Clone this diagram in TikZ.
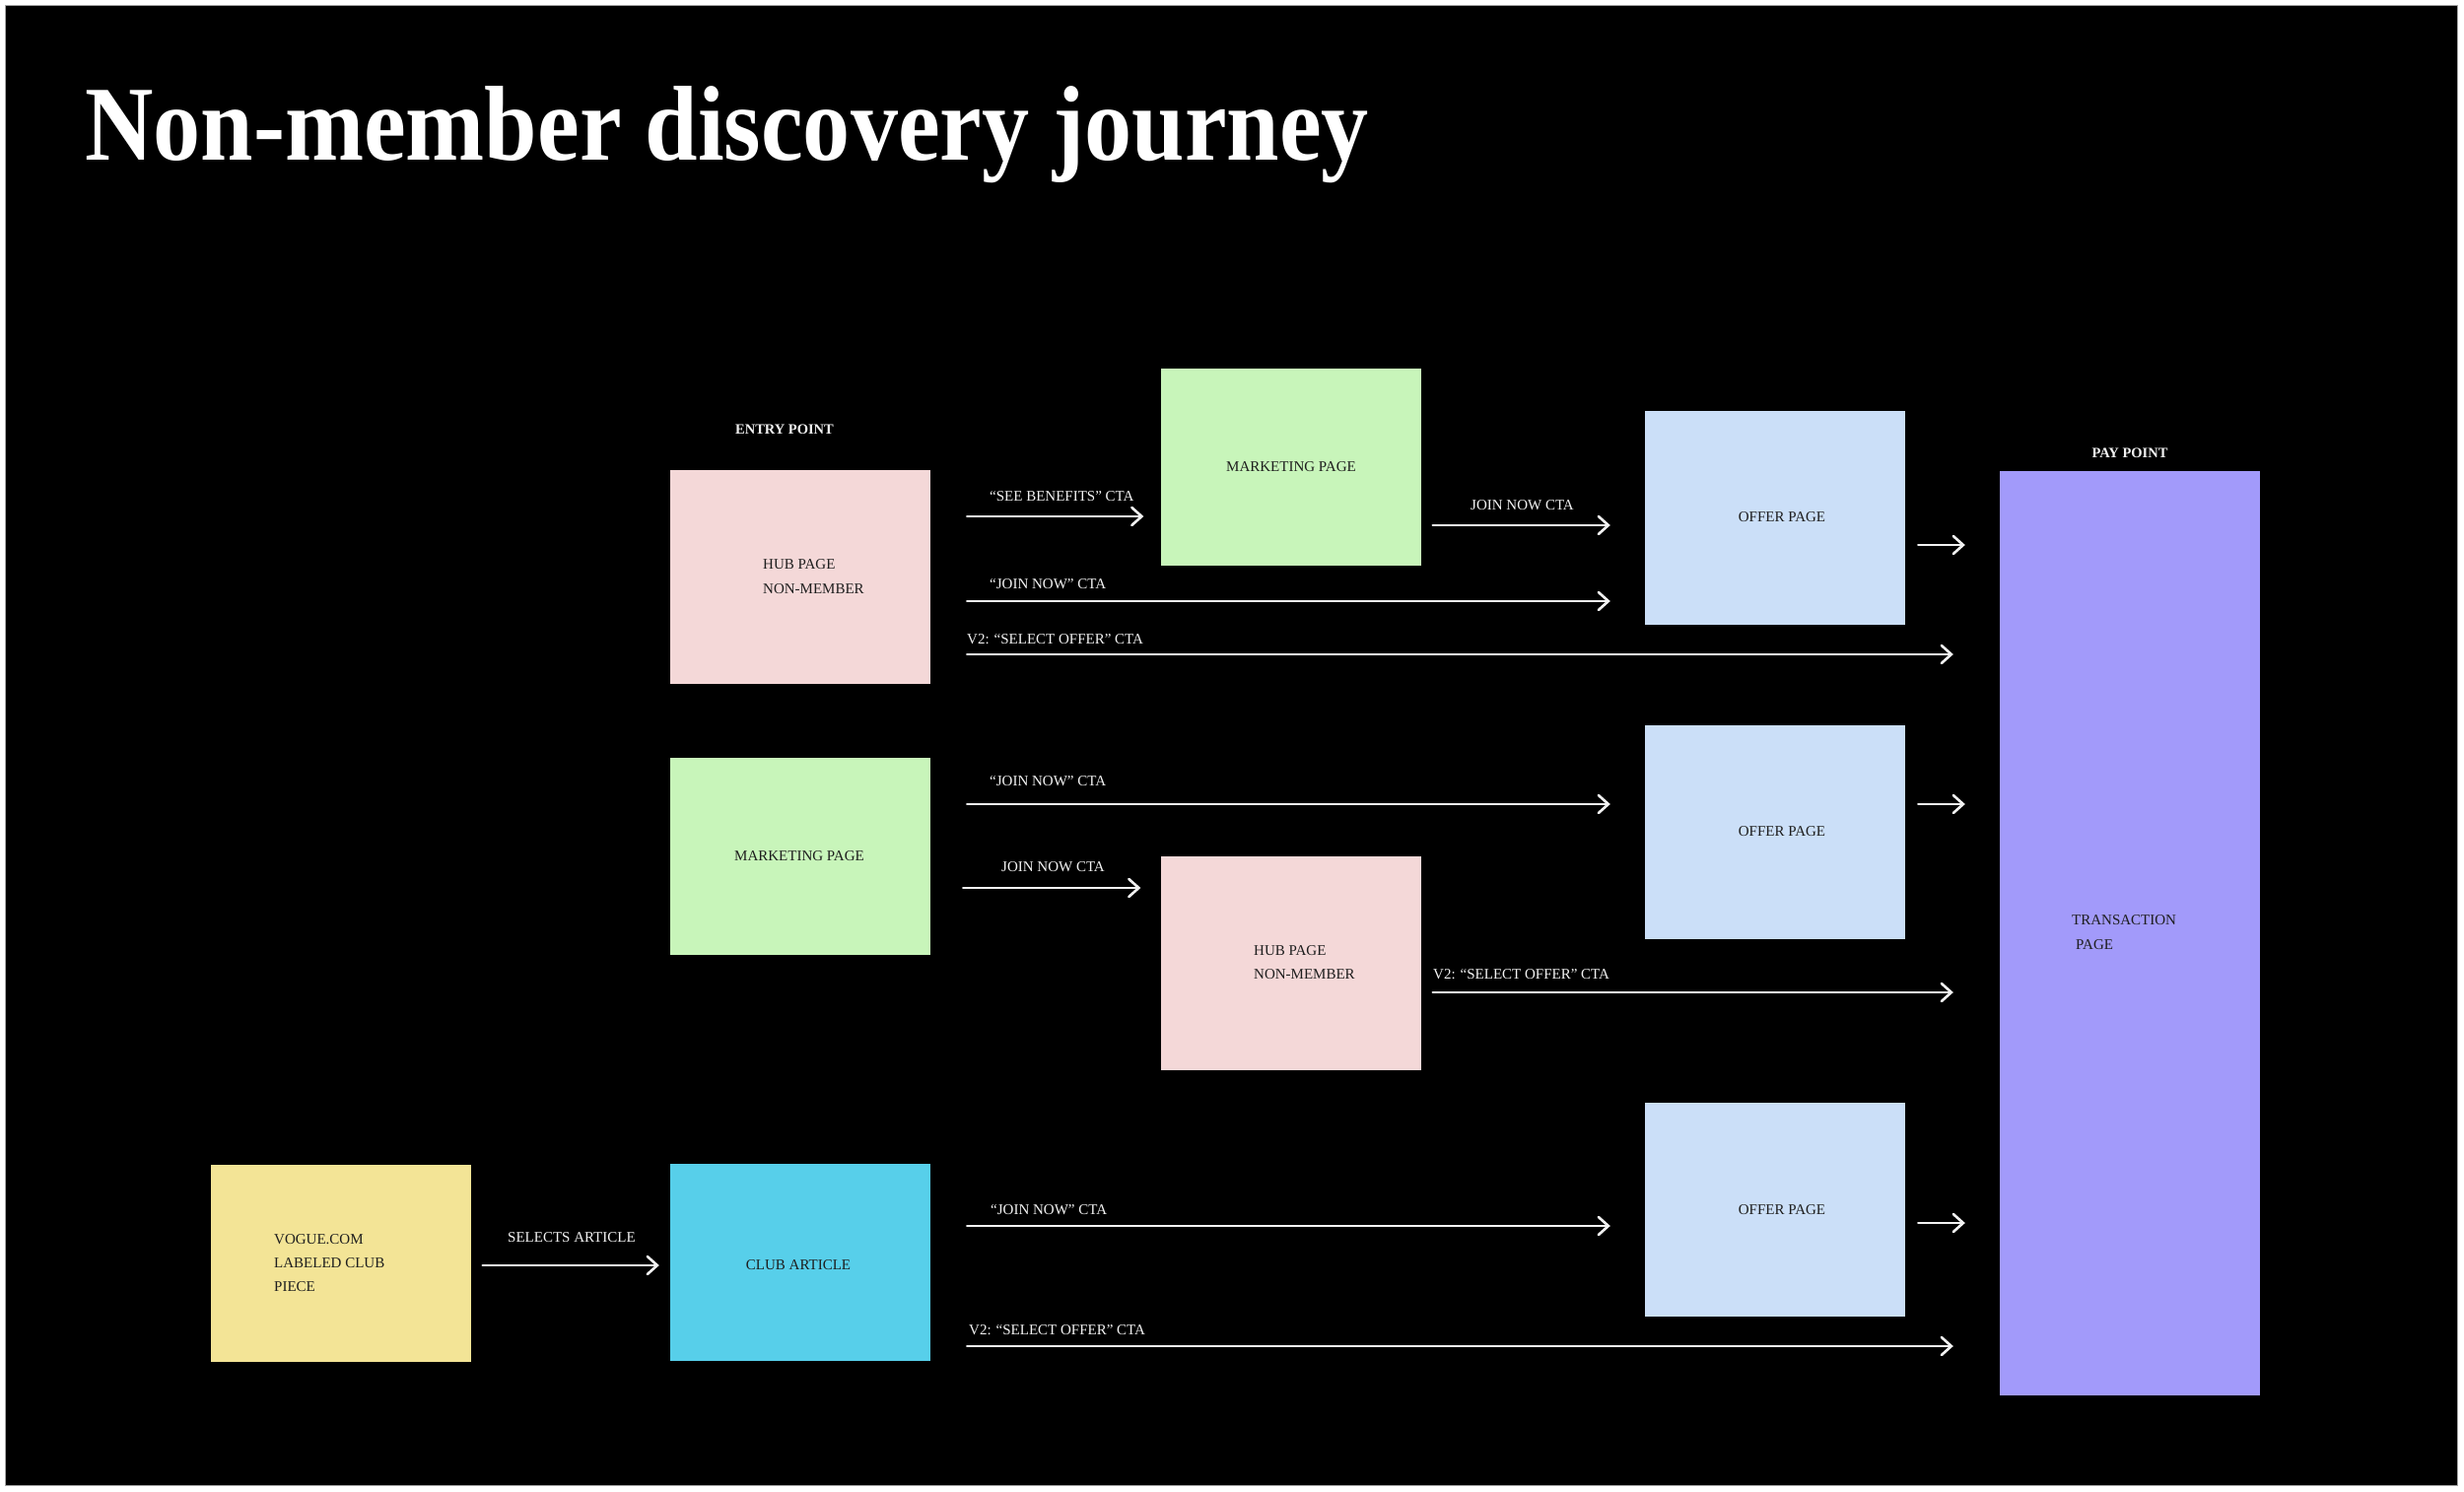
\documentclass[tikz,border=0pt]{standalone}
\usepackage{fontspec}
\setmainfont{Liberation Serif}
\usetikzlibrary{arrows.meta}
\definecolor{pinkbox}{HTML}{F4D8D8}
\definecolor{greenbox}{HTML}{C8F5BA}
\definecolor{bluebox}{HTML}{CBDFF8}
\definecolor{purplebox}{HTML}{A29AFA}
\definecolor{yellowbox}{HTML}{F3E496}
\definecolor{cyanbox}{HTML}{57CFEA}
\definecolor{boxtext}{HTML}{1E1E1E}
\definecolor{labeltext}{HTML}{F2F2F2}
\begin{document}
\begin{tikzpicture}[x=1pt,y=-1pt,
  pagebox/.style={rectangle, inner sep=0, minimum width=264pt},
  tallbox/.style={pagebox, minimum height=217pt},
  shortbox/.style={pagebox, minimum height=200pt},
  boxlabel/.style={inner sep=0, anchor=base west, text=boxtext, font=\fontsize{15}{18}\selectfont},
  boxlabelc/.style={boxlabel, anchor=base},
  flowlabel/.style={inner sep=0, anchor=base west, text=labeltext, font=\fontsize{15}{18}\selectfont},
  headlabel/.style={inner sep=0, anchor=base, text=labeltext, font=\bfseries\fontsize{14.5}{18}\selectfont},
  arr/.style={draw=labeltext, line width=2.6pt, line cap=round, -{Straight Barb[length=10pt,width=18pt,line cap=round]}},
]
% page
\fill[white] (0,0) rectangle (2500,1514);
\useasboundingbox (0,0) rectangle (2500,1514);
\filldraw[fill=black, draw=gray!70, line width=1pt] (5,6) rectangle (2493,1507);

% title
\node[inner sep=0, anchor=base west, text=white, font=\bfseries\fontsize{108}{120}\selectfont] (title) at (86,163) {\scalebox{0.89}[1]{Non-member discovery journey}};

% column headings
\node[headlabel] (entry) at (796,440) {ENTRY POINT};
\node[headlabel] (paypt) at (2161,464) {PAY POINT};

% boxes
\node[tallbox, fill=pinkbox]   (hubA)   at (812,585.5) {};
\node[shortbox, fill=greenbox] (mktA)   at (1309.5,474) {};
\node[tallbox, fill=bluebox]   (offerA) at (1801,525.5) {};
\node[pagebox, minimum height=938pt, fill=purplebox] (pay) at (2161,947) {};
\node[shortbox, fill=greenbox] (mktB)   at (812,869) {};
\node[tallbox, fill=bluebox]   (offerB) at (1801,844.5) {};
\node[tallbox, fill=pinkbox]   (hubB)   at (1309.5,977.5) {};
\node[shortbox, fill=yellowbox] (vogue) at (345.5,1282) {};
\node[shortbox, fill=cyanbox]  (club)   at (812,1281) {};
\node[tallbox, fill=bluebox]   (offerC) at (1801,1227.5) {};

% box texts
\node[boxlabel] (hubAt1) at (774,577) {HUB PAGE};
\node[boxlabel] (hubAt2) at (774,602) {NON-MEMBER};
\node[boxlabelc] (mktAt) at (1310,478) {MARKETING PAGE};
\node[boxlabelc] (offerAt) at (1808,529) {OFFER PAGE};
\node[boxlabelc] (mktBt) at (811,873) {MARKETING PAGE};
\node[boxlabelc] (offerBt) at (1808,848) {OFFER PAGE};
\node[boxlabel] (hubBt1) at (1272,969) {HUB PAGE};
\node[boxlabel] (hubBt2) at (1272,993) {NON-MEMBER};
\node[boxlabel] (payt1) at (2102,938) {TRANSACTION};
\node[boxlabel] (payt2) at (2106,963) {PAGE};
\node[boxlabel] (voguet1) at (278,1262) {VOGUE.COM};
\node[boxlabel] (voguet2) at (278,1286) {LABELED CLUB};
\node[boxlabel] (voguet3) at (278,1310) {PIECE};
\node[boxlabelc] (clubt) at (810,1288) {CLUB ARTICLE};
\node[boxlabelc] (offerCt) at (1808,1232) {OFFER PAGE};

% connector labels
\node[flowlabel] (l1) at (1004,508) {“SEE BENEFITS” CTA};
\node[flowlabel] (l2) at (1492,517) {JOIN NOW CTA};
\node[flowlabel] (l3) at (1004,597) {“JOIN NOW” CTA};
\node[flowlabel] (l4) at (981,653) {V2: “SELECT OFFER” CTA};
\node[flowlabel] (l6) at (1004,797) {“JOIN NOW” CTA};
\node[flowlabel] (l7) at (1016,884) {JOIN NOW CTA};
\node[flowlabel] (l8) at (1454,993) {V2: “SELECT OFFER” CTA};
\node[flowlabel] (l10) at (515,1260) {SELECTS ARTICLE};
\node[flowlabel] (l11) at (1005,1232) {“JOIN NOW” CTA};
\node[flowlabel] (l12) at (983,1354) {V2: “SELECT OFFER” CTA};

% connector levels
\coordinate (ya1) at (0,524);
\coordinate (ya2) at (0,533);
\coordinate (ya3) at (0,610);
\coordinate (ya4) at (0,664);
\coordinate (ya5) at (0,553);
\coordinate (yb1) at (0,816);
\coordinate (yb2) at (0,901);
\coordinate (yb3) at (0,1007);
\coordinate (yc1) at (0,1284);
\coordinate (yc2) at (0,1244);
\coordinate (yc3) at (0,1366);
\coordinate (yc4) at (0,1241);

% connectors
\draw[arr, shorten <=37pt, shorten >=17pt] (hubA.east |- ya1) -- (mktA.west |- ya1);
\draw[arr, shorten <=12pt, shorten >=35pt] (mktA.east |- ya2) -- (offerA.west |- ya2);
\draw[arr, shorten <=37pt, shorten >=35pt] (hubA.east |- ya3) -- (offerA.west |- ya3);
\draw[arr, shorten <=37pt, shorten >=47pt] (hubA.east |- ya4) -- (pay.west |- ya4);
\draw[arr, shorten <=13pt, shorten >=35pt] (offerA.east |- ya5) -- (pay.west |- ya5);
\draw[arr, shorten <=37pt, shorten >=35pt] (mktB.east |- yb1) -- (offerB.west |- yb1);
\draw[arr, shorten <=33pt, shorten >=20pt] (mktB.east |- yb2) -- (hubB.west |- yb2);
\draw[arr, shorten <=12pt, shorten >=47pt] (hubB.east |- yb3) -- (pay.west |- yb3);
\draw[arr, shorten <=13pt, shorten >=35pt] (offerB.east |- yb1) -- (pay.west |- yb1);
\draw[arr, shorten <=12pt, shorten >=11pt] (vogue.east |- yc1) -- (club.west |- yc1);
\draw[arr, shorten <=37pt, shorten >=35pt] (club.east |- yc2) -- (offerC.west |- yc2);
\draw[arr, shorten <=37pt, shorten >=47pt] (club.east |- yc3) -- (pay.west |- yc3);
\draw[arr, shorten <=13pt, shorten >=35pt] (offerC.east |- yc4) -- (pay.west |- yc4);
\end{tikzpicture}
\end{document}
